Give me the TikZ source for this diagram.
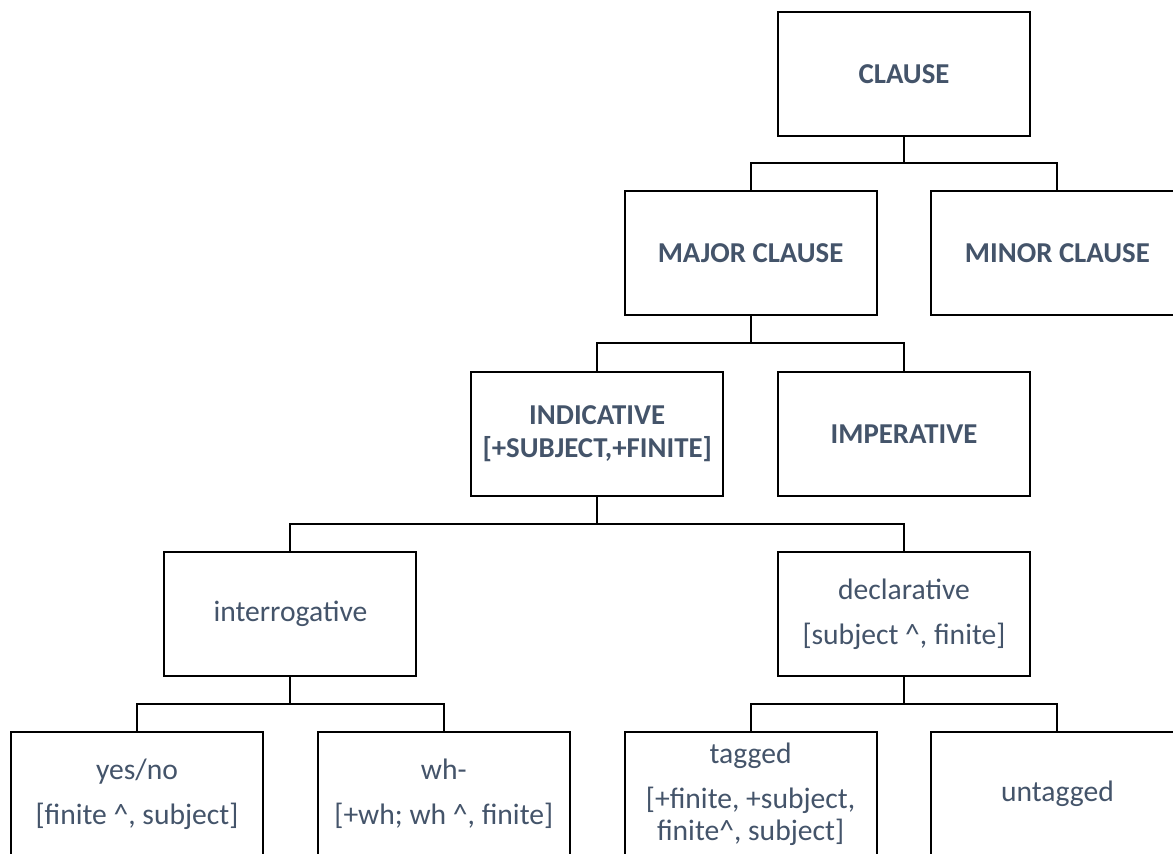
\documentclass[tikz,border=0pt]{standalone}
\usepackage{fontspec}
\setmainfont{Carlito}
\definecolor{txt}{HTML}{44546A}
\begin{document}
\begin{tikzpicture}[x=1pt,y=-1pt,
  box/.style={draw=black, line width=2pt, fill=white, minimum width=252pt, minimum height=124pt, inner sep=0pt, align=center, text=txt, font=\fontsize{29.6}{33.5}\selectfont},
  bbox/.style={box, font=\fontsize{28.8}{33.5}\selectfont\bfseries},
  conn/.style={draw=black, line width=2pt}]
\useasboundingbox (0,0) rectangle (1173,854);
\clip (0,0) rectangle (1173,854);
\fill[white] (0,0) rectangle (1173,854);
% row 1
\node[bbox] (clause) at (904,73.7) {CLAUSE};
% row 2
\node[bbox] (major) at (750.6,253.3) {MAJOR CLAUSE};
\node[bbox] (minor) at (1057.4,253.3) {MINOR CLAUSE};
% row 3
\node[bbox] (indic) at (597.2,433.7) {INDICATIVE\\{[}+SUBJECT,+FINITE{]}};
\node[bbox] (imper) at (904,433.7) {IMPERATIVE};
% row 4
\node[box] (interrog) at (290.4,614) {interrogative};
\node[box] (decl) at (904,614) {declarative\\[11.5pt]{[}subject \textasciicircum, finite{]}};
% row 5
\node[box] (yesno) at (137,794) {yes/no\\[11.5pt]{[}finite \textasciicircum, subject{]}};
\node[box] (wh) at (443.8,794) {wh-\\[11.5pt]{[}+wh; wh \textasciicircum, finite{]}};
\node[box, font=\fontsize{29.6}{32}\selectfont] (tagged) at (750.6,794) {tagged\\[13pt]{[}+finite, +subject,\\finite\textasciicircum, subject{]}};
\node[box] (untagged) at (1057.4,794) {untagged};
% connectors
\draw[conn] (clause.south) -- ++(0,26.3) coordinate (j1);
\draw[conn] (major.north) |- (j1) -| (minor.north);
\draw[conn] (major.south) -- ++(0,26.3) coordinate (j2);
\draw[conn] (indic.north) |- (j2) -| (imper.north);
\draw[conn] (indic.south) -- ++(0,26.8) coordinate (j3);
\draw[conn] (interrog.north) |- (j3) -| (decl.north);
\draw[conn] (interrog.south) -- ++(0,26.8) coordinate (j4);
\draw[conn] (yesno.north) |- (j4) -| (wh.north);
\draw[conn] (decl.south) -- ++(0,26.8) coordinate (j5);
\draw[conn] (tagged.north) |- (j5) -| (untagged.north);
\end{tikzpicture}
\end{document}
